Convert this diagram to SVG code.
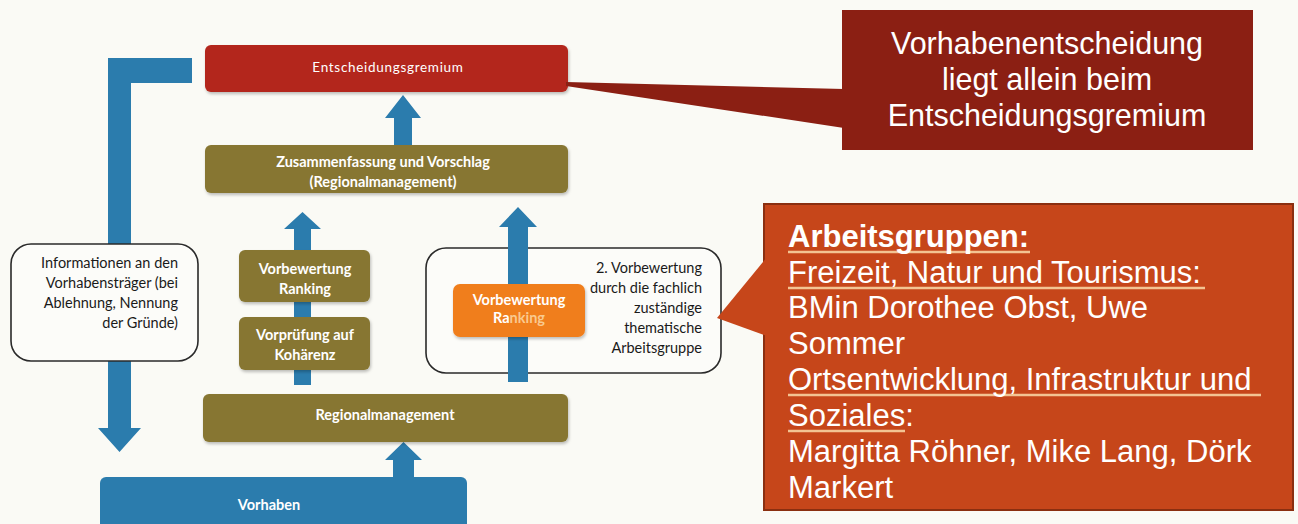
<svg xmlns="http://www.w3.org/2000/svg" width="1298" height="524" viewBox="0 0 1298 524">
<defs>
<style>
.bg{fill:#fafaf5}
.red{fill:#b3261b}
.olive{fill:#877631}
.blue{fill:#2b7cad}
.orange{fill:#f07e1c}
.frame{fill:#fcfcf9;stroke:#2a2a2a;stroke-width:1.6}
.lbl{font-family:Lato,"Liberation Sans",sans-serif;font-weight:700;font-size:14.5px;fill:#ffffff;text-anchor:middle}
.note{font-family:Lato,"Liberation Sans",sans-serif;font-weight:400;font-size:14.5px;fill:#1a1a1a;text-anchor:end}
.big{font-family:"Liberation Sans",Arial,sans-serif;font-size:30.5px;fill:#ffffff}
.ul{stroke:#f3c493;stroke-width:2.5}
</style>
<filter id="sh" x="-10%" y="-10%" width="120%" height="130%">
<feDropShadow dx="1" dy="2" stdDeviation="1.5" flood-color="#000" flood-opacity="0.25"/>
</filter>
</defs>
<rect class="bg" x="0" y="0" width="1298" height="524"/>

<g id="node-vorbewertung2">
<rect class="frame" x="426" y="248" width="295" height="125" rx="20"/>
<text class="note" x="702"><tspan x="702" y="273">2. Vorbewertung</tspan><tspan x="702" y="293">durch die fachlich</tspan><tspan x="702" y="313">zuständige</tspan><tspan x="702" y="333">thematische</tspan><tspan x="702" y="353">Arbeitsgruppe</tspan></text>
</g>

<g id="connectors">
<polygon class="blue" points="192,58 108,58 108,428 98,428 119.5,452 141,428 131,428 131,83 192,83"/>
<polygon class="blue" points="403,95 421,118 412,118 412,148 394,148 394,118 385,118"/>
<polygon class="blue" points="302.5,212 321,229 311,229 311,385 294,385 294,229 284,229"/>
<polygon class="blue" points="518,207 537,227 528,227 528,382 508,382 508,227 499,227"/>
<polygon class="blue" points="403.5,442 422,460 414,460 414,482 393,482 393,460 385,460"/>
</g>

<g id="node-entscheidungsgremium">
<rect class="red" x="205" y="45" width="363" height="47" rx="6" filter="url(#sh)"/>
<text class="lbl" x="388" y="72" style="font-weight:400;font-size:13.5px;letter-spacing:0.7px">Entscheidungsgremium</text>
</g>

<g id="node-zusammenfassung">
<rect class="olive" x="205" y="145" width="363" height="48" rx="6" filter="url(#sh)"/>
<text class="lbl" x="383"><tspan x="383" y="167">Zusammenfassung und Vorschlag</tspan><tspan x="383" y="187">(Regionalmanagement)</tspan></text>
</g>

<g id="node-information">
<rect class="frame" x="11" y="244" width="187" height="117" rx="20"/>
<text class="note" x="178"><tspan x="178" y="268">Informationen an den</tspan><tspan x="178" y="288">Vorhabensträger (bei</tspan><tspan x="178" y="308">Ablehnung, Nennung</tspan><tspan x="178" y="328">der Gründe)</tspan></text>
</g>

<g id="node-vorbewertung-ranking">
<rect class="olive" x="239" y="250" width="131" height="52" rx="6" filter="url(#sh)"/>
<text class="lbl" x="305"><tspan x="305" y="274">Vorbewertung</tspan><tspan x="305" y="294">Ranking</tspan></text>
</g>

<g id="node-vorpruefung">
<rect class="olive" x="239" y="317" width="131" height="53" rx="6" filter="url(#sh)"/>
<text class="lbl" x="305"><tspan x="305" y="340">Vorprüfung auf</tspan><tspan x="305" y="360">Kohärenz</tspan></text>
</g>

<g id="node-vorbewertung-orange">
<rect class="orange" x="453" y="284" width="132" height="53" rx="7" filter="url(#sh)"/>
<text class="lbl" x="519"><tspan x="519" y="305">Vorbewertung</tspan><tspan x="519" y="323">Ra<tspan style="fill:#f9c98e">nking</tspan></tspan></text>
</g>

<g id="node-regionalmanagement">
<rect class="olive" x="203" y="394" width="365" height="48" rx="6" filter="url(#sh)"/>
<text class="lbl" x="385" y="420">Regionalmanagement</text>
</g>

<g id="node-vorhaben">
<rect class="blue" x="100" y="477" width="367" height="60" rx="6"/>
<text class="lbl" x="269" y="510">Vorhaben</text>
</g>

<g id="callout-entscheidung">
<polygon fill="#8b1f13" points="844,89 566,82 566,86 844,128"/>
<rect fill="#8b1f13" x="842" y="10" width="411" height="140"/>
<text class="big" text-anchor="middle"><tspan x="1047" y="54">Vorhabenentscheidung</tspan><tspan x="1047" y="90">liegt allein beim</tspan><tspan x="1047" y="126">Entscheidungsgremium</tspan></text>
</g>

<g id="callout-arbeitsgruppen">
<rect fill="#c6461a" stroke="#8a2f10" stroke-width="2" x="764" y="204" width="529" height="306"/>
<polygon fill="#c6461a" points="767,257 717,318 767,336"/>
<line class="ul" x1="788" y1="252" x2="1030" y2="252"/>
<line class="ul" x1="788" y1="288" x2="1205" y2="288"/>
<line class="ul" x1="788" y1="395" x2="1261" y2="395"/>
<line class="ul" x1="788" y1="431" x2="905" y2="431"/>
<text class="big" style="font-size:31px"><tspan x="788" y="247" style="font-weight:700">Arbeitsgruppen:</tspan><tspan x="788" y="283">Freizeit, Natur und Tourismus:</tspan><tspan x="788" y="318">BMin Dorothee Obst, Uwe</tspan><tspan x="788" y="354">Sommer</tspan><tspan x="788" y="390">Ortsentwicklung, Infrastruktur und </tspan><tspan x="788" y="426">Soziales:</tspan><tspan x="788" y="462">Margitta Röhner, Mike Lang, Dörk</tspan><tspan x="788" y="498">Markert</tspan></text>
</g>
</svg>
